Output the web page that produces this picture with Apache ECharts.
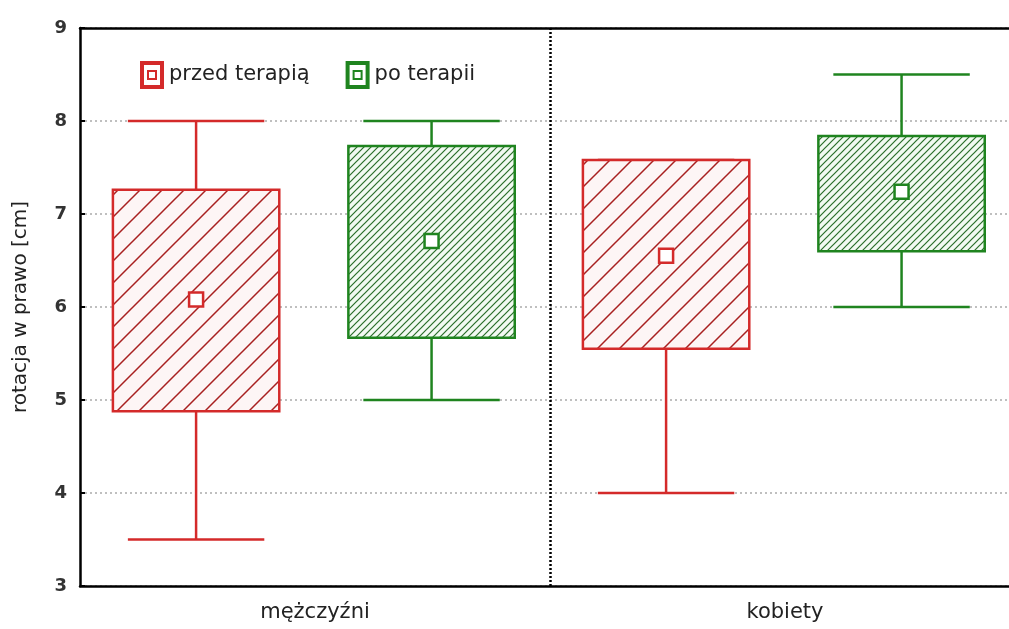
<!DOCTYPE html>
<html>
<head>
<meta charset="utf-8">
<script src="https://cdn.jsdelivr.net/npm/echarts@6/dist/echarts.min.js"></script>
<style>
html, body { margin: 0; padding: 0; background: #fff; overflow: hidden; }
#chart { width: 1009px; height: 629px; }
</style>
</head>
<body>
<div id="chart"></div>
<script>
// dane
var categories = ['mężczyźni', 'kobiety'];
var seriesNames = ['przed terapią', 'po terapii'];
var yTicks = [3, 4, 5, 6, 7, 8, 9];

// przed terapią: min, dolna krawędź, średnia, górna krawędź, max
var beforeMin  = [3.5, 4.0];
var beforeLow  = [4.88, 5.55];
var beforeMean = [6.08, 6.55];
var beforeHigh = [7.26, 7.58];
var beforeMax  = [8.0, 7.58];

// po terapii
var afterMin  = [5.0, 6.0];
var afterLow  = [5.67, 6.6];
var afterMean = [6.71, 7.24];
var afterHigh = [7.73, 7.84];
var afterMax  = [8.0, 8.5];

var red = '#d42a2a';
var green = '#1f841f';
var font = 'DejaVu Sans';

//kreskowanie
function hatch(size, bg, color, lw) {
    var c = document.createElement('canvas');
    c.width = size;
    c.height = size;
    var ctx = c.getContext('2d');
    ctx.fillStyle = bg;
    ctx.fillRect(0, 0, size, size);
    ctx.strokeStyle = color;
    ctx.lineWidth = lw;
    ctx.beginPath();
    ctx.moveTo(0, size); ctx.lineTo(size, 0);
    ctx.moveTo(-2, 2); ctx.lineTo(2, -2);
    ctx.moveTo(size - 2, size + 2); ctx.lineTo(size + 2, size - 2);
    ctx.stroke();
    return c;
}

function makeData(mn, lo, me, hi, mx) {
    var out = [];
    for (var i = 0; i < categories.length; i++) {
        out.push([i, mn[i], lo[i], me[i], hi[i], mx[i]]);
    }
    return out;
}

function boxRenderer(offset, color, pattern) {
    return function (params, api) {
        var i = api.value(0);
        var band = api.size([1, 0])[0];
        var cx = api.coord([i, 0])[0] + band * offset;
        var w = band * 0.354;
        var cap = w * 0.82;
        var pMin = api.coord([i, api.value(1)])[1];
        var pLo = api.coord([i, api.value(2)])[1];
        var pMean = api.coord([i, api.value(3)])[1];
        var pHi = api.coord([i, api.value(4)])[1];
        var pMax = api.coord([i, api.value(5)])[1];
        var ls = { stroke: color, lineWidth: 2.5 };
        return {
            type: 'group',
            children: [
                { type: 'line', shape: { x1: cx, y1: pMax, x2: cx, y2: pHi }, style: ls },
                { type: 'line', shape: { x1: cx, y1: pLo, x2: cx, y2: pMin }, style: ls },
                { type: 'line', shape: { x1: cx - cap / 2, y1: pMax, x2: cx + cap / 2, y2: pMax }, style: ls },
                { type: 'line', shape: { x1: cx - cap / 2, y1: pMin, x2: cx + cap / 2, y2: pMin }, style: ls },
                {
                    type: 'rect',
                    shape: { x: cx - w / 2, y: pHi, width: w, height: pLo - pHi },
                    style: { fill: { image: pattern, repeat: 'repeat' }, stroke: color, lineWidth: 2.5 }
                },
                {
                    type: 'rect',
                    shape: { x: cx - 7, y: pMean - 7, width: 14, height: 14 },
                    style: { fill: '#fff', stroke: color, lineWidth: 2.5 }
                }
            ]
        };
    };
}

var chart = echarts.init(document.getElementById('chart'));

var legendIcon = 'path://M0,0H24V28H0Z M4,4V24H20V4Z M7,9V19H17V9Z M9,11H15V17H9Z';

var option = {
    animation: false,
    grid: { left: 80, top: 28, bottom: 43, width: 940, outerBoundsMode: 'none' },
    legend: {
        left: 135,
        top: 56,
        itemWidth: 24,
        itemHeight: 28,
        itemGap: 36,
        textStyle: { fontFamily: font, fontSize: 21, color: '#222' },
        data: [
            { name: seriesNames[0], icon: legendIcon },
            { name: seriesNames[1], icon: legendIcon }
        ]
    },
    xAxis: [{
        type: 'category',
        data: categories,
        axisLine: { lineStyle: { color: '#000', width: 2.5 } },
        axisTick: { inside: true, alignWithLabel: true, length: 7, lineStyle: { color: '#000', width: 2 } },
        axisLabel: { margin: 16, fontFamily: font, fontSize: 21, color: '#222' },
        splitLine: {
            show: true,
            showMinLine: false,
            lineStyle: { color: '#000', type: [2, 2], width: 2.5 }
        }
    }, {
        type: 'category',
        position: 'top',
        data: categories,
        axisLine: { lineStyle: { color: '#000', width: 2.5 } },
        axisTick: { inside: true, alignWithLabel: true, length: 7, lineStyle: { color: '#000', width: 2 } },
        axisLabel: { show: false }
    }],
    yAxis: {
        type: 'value',
        min: yTicks[0],
        max: yTicks[yTicks.length - 1],
        interval: 1,
        name: 'rotacja w prawo [cm]',
        nameLocation: 'middle',
        nameGap: 49,
        nameTextStyle: { fontFamily: font, fontSize: 20, color: '#222' },
        axisLine: { show: true, lineStyle: { color: '#000', width: 2.5 } },
        axisTick: { show: true, inside: true, length: 5, lineStyle: { color: '#000', width: 2 } },
        axisLabel: { margin: 13, fontFamily: font, fontWeight: 'bold', fontSize: 18, color: '#333' },
        splitLine: { show: true, lineStyle: { color: '#aaa', type: [2, 3], width: 1.5 } }
    },
    series: [{
        name: seriesNames[0],
        type: 'custom',
        itemStyle: { color: red },
        renderItem: boxRenderer(-0.253, red, hatch(22, '#fdf5f5', '#a82020', 1.5)),
        data: makeData(beforeMin, beforeLow, beforeMean, beforeHigh, beforeMax),
        z: 3
    }, {
        name: seriesNames[1],
        type: 'custom',
        itemStyle: { color: green },
        renderItem: boxRenderer(0.248, green, hatch(7, '#f2faf2', '#2a6e2a', 1.2)),
        data: makeData(afterMin, afterLow, afterMean, afterHigh, afterMax),
        z: 3
    }]
};

chart.setOption(option);
</script>
</body>
</html>
